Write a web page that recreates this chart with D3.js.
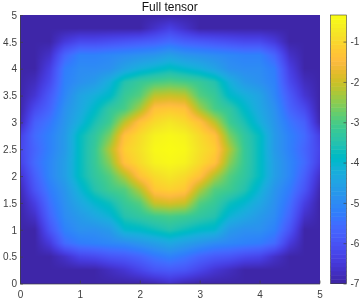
<!DOCTYPE html>
<html lang="en">
<head>
<meta charset="UTF-8">
<title>Full tensor</title>
<style>
    html, body { margin: 0; padding: 0; background: #fff; }
    #wrap { position: relative; width: 360px; height: 300px; overflow: hidden; }
    canvas, svg { position: absolute; left: 0; top: 0; }
    text { font-family: "Liberation Sans", Arial, sans-serif; }
</style>
</head>
<body>
<div id="wrap">
    <canvas id="heat" width="360" height="300"></canvas>
    <svg id="chart" width="360" height="300"></svg>
</div>
<script src="https://d3js.org/d3.v7.min.js"></script>
<script>
    const titleText = 'Full tensor';
    const xTicks = [0, 1, 2, 3, 4, 5];
    const yTicks = [0, 0.5, 1, 1.5, 2, 2.5, 3, 3.5, 4, 4.5, 5];
    const barTicks = [-7, -6, -5, -4, -3, -2, -1];
    const valueRange = [-7, -0.34];

    // grid nodes, 0 to 5 every 0.25
    const gridX = d3.range(0, 5.01, 0.25);
    const gridY = d3.range(0, 5.01, 0.25);

    // values, first row is y = 0
    const gridValues = [
        [-7,-7,-7,-7,-7,-7,-7,-7,-7,-6.9,-6.7,-6.9,-7,-7,-7,-7,-7,-7,-7,-7,-7],
        [-7,-7,-7,-7,-7,-7,-6.8,-6.6,-6.3,-6,-5.9,-6,-6.3,-6.6,-6.8,-7,-7,-7,-7,-7,-7],
        [-7,-7,-7,-6.7,-6.3,-6.2,-6,-5.9,-5.7,-5.4,-5.2,-5.4,-5.7,-5.9,-6,-6.2,-6.3,-6.7,-7,-7,-7],
        [-7,-7,-6.5,-5.6,-5.3,-5.2,-5.1,-5,-4.8,-4.6,-4.4,-4.6,-4.8,-5,-5.1,-5.2,-5.3,-5.6,-6.5,-7,-7],
        [-7,-7,-6,-5.2,-4.9,-4.9,-4.7,-4,-3.9,-3.7,-3.5,-3.7,-3.9,-4,-4.7,-4.9,-4.9,-5.2,-6,-7,-7],
        [-7,-6.7,-5.7,-5,-4.7,-4.4,-4.1,-3.5,-3.3,-3.1,-3,-3.1,-3.3,-3.5,-4.1,-4.4,-4.7,-5,-5.7,-6.7,-7],
        [-7,-6.4,-5.5,-4.9,-4.4,-4,-3.7,-3.2,-2.9,-2,-1.85,-2,-2.9,-3.2,-3.7,-4,-4.4,-4.9,-5.5,-6.4,-7],
        [-6.9,-6,-5.3,-4.8,-4.1,-3.5,-3.1,-2.9,-2.2,-1.2,-1.05,-1.2,-2.2,-2.9,-3.1,-3.5,-4.1,-4.8,-5.3,-6,-6.9],
        [-6.7,-5.8,-5.1,-4.6,-3.8,-3.3,-2.9,-2.2,-1.3,-0.9,-0.7,-0.9,-1.3,-2.2,-2.9,-3.3,-3.8,-4.6,-5.1,-5.8,-6.7],
        [-6.4,-5.6,-5.1,-4.6,-3.8,-3.2,-2.5,-1.3,-0.9,-0.5,-0.4,-0.5,-0.9,-1.3,-2.5,-3.2,-3.8,-4.6,-5.1,-5.6,-6.4],
        [-6.3,-5.7,-5.2,-4.7,-3.8,-3.2,-2.2,-1.1,-0.8,-0.4,-0.34,-0.4,-0.8,-1.1,-2.2,-3.2,-3.8,-4.7,-5.2,-5.7,-6.3],
        [-6.4,-5.6,-5.2,-4.7,-3.8,-3.3,-2.6,-1.3,-0.9,-0.5,-0.4,-0.5,-0.9,-1.3,-2.6,-3.3,-3.8,-4.7,-5.2,-5.6,-6.4],
        [-6.9,-5.8,-5.4,-4.8,-4.2,-3.6,-3.1,-2.1,-1.3,-0.9,-0.7,-0.9,-1.3,-2.1,-3.1,-3.6,-4.2,-4.8,-5.4,-5.8,-6.9],
        [-7,-6.2,-5.7,-4.9,-4.4,-3.9,-3.3,-3,-2.3,-1.3,-1.2,-1.3,-2.3,-3,-3.3,-3.9,-4.4,-4.9,-5.7,-6.2,-7],
        [-7,-6.6,-5.9,-5.1,-4.5,-4.2,-3.9,-3.2,-2.9,-2.1,-2,-2.1,-2.9,-3.2,-3.9,-4.2,-4.5,-5.1,-5.9,-6.6,-7],
        [-7,-6.8,-6.2,-5.2,-4.9,-4.7,-4.2,-3.5,-3.2,-3,-2.9,-3,-3.2,-3.5,-4.2,-4.7,-4.9,-5.2,-6.2,-6.8,-7],
        [-7,-7,-6.4,-5.3,-5,-5,-4.9,-4.5,-4.2,-4,-3.8,-4,-4.2,-4.5,-4.9,-5,-5,-5.3,-6.4,-7,-7],
        [-7,-7,-6.7,-5.7,-5.2,-5.2,-5.1,-5,-4.9,-4.8,-4.6,-4.8,-4.9,-5,-5.1,-5.2,-5.2,-5.7,-6.7,-7,-7],
        [-7,-7,-7,-6.5,-6.2,-6.2,-6.1,-6,-5.9,-5.8,-5.6,-5.8,-5.9,-6,-6.1,-6.2,-6.2,-6.5,-7,-7,-7],
        [-7,-7,-7,-7,-7,-7,-7,-7,-7,-6.7,-6.4,-6.7,-7,-7,-7,-7,-7,-7,-7,-7,-7],
        [-7,-7,-7,-7,-7,-7,-7,-7,-7,-7,-7,-7,-7,-7,-7,-7,-7,-7,-7,-7,-7]
    ];

    // parula
    const palette = [
        [0.2422,0.1504,0.6603],[0.2504,0.1650,0.7076],[0.2578,0.1818,0.7511],[0.2647,0.1978,0.7952],
        [0.2706,0.2147,0.8364],[0.2751,0.2342,0.8710],[0.2783,0.2559,0.8991],[0.2803,0.2782,0.9221],
        [0.2813,0.3006,0.9414],[0.2810,0.3228,0.9579],[0.2795,0.3447,0.9717],[0.2760,0.3667,0.9829],
        [0.2699,0.3892,0.9906],[0.2602,0.4123,0.9952],[0.2440,0.4358,0.9988],[0.2206,0.4603,0.9973],
        [0.1963,0.4847,0.9892],[0.1834,0.5074,0.9798],[0.1786,0.5289,0.9682],[0.1764,0.5499,0.9520],
        [0.1687,0.5703,0.9359],[0.1540,0.5902,0.9218],[0.1460,0.6091,0.9079],[0.1380,0.6276,0.8973],
        [0.1248,0.6459,0.8883],[0.1113,0.6635,0.8763],[0.0952,0.6798,0.8598],[0.0689,0.6948,0.8394],
        [0.0297,0.7082,0.8163],[0.0036,0.7203,0.7917],[0.0067,0.7312,0.7660],[0.0433,0.7411,0.7394],
        [0.0964,0.7500,0.7120],[0.1408,0.7584,0.6842],[0.1717,0.7670,0.6554],[0.1938,0.7758,0.6251],
        [0.2161,0.7843,0.5923],[0.2470,0.7918,0.5567],[0.2906,0.7973,0.5188],[0.3406,0.8008,0.4789],
        [0.3909,0.8029,0.4354],[0.4456,0.8024,0.3909],[0.5044,0.7993,0.3480],[0.5616,0.7942,0.3045],
        [0.6174,0.7876,0.2612],[0.6720,0.7793,0.2227],[0.7242,0.7698,0.1910],[0.7738,0.7598,0.1646],
        [0.8203,0.7498,0.1535],[0.8634,0.7406,0.1596],[0.9035,0.7330,0.1774],[0.9393,0.7288,0.2100],
        [0.9728,0.7298,0.2394],[0.9956,0.7434,0.2371],[0.9970,0.7659,0.2199],[0.9952,0.7861,0.2030],
        [0.9892,0.8135,0.1885],[0.9786,0.8386,0.1766],[0.9676,0.8639,0.1643],[0.9610,0.8890,0.1537],
        [0.9597,0.9135,0.1423],[0.9628,0.9373,0.1265],[0.9691,0.9606,0.1064],[0.9769,0.9839,0.0805]
    ].map(c => d3.rgb(c[0] * 255, c[1] * 255, c[2] * 255));

    const plot = { left: 20, right: 319.5, top: 15, bottom: 283.5 };
    const bar = { left: 330.5, right: 346.5 };
    const axisColor = '#404040';

    const x = d3.scaleLinear().domain([0, 5]).range([plot.left, plot.right]);
    const y = d3.scaleLinear().domain([0, 5]).range([plot.bottom, plot.top]);
    const barY = d3.scaleLinear().domain(valueRange).range([plot.bottom, plot.top]);
    const color = d3.scaleSequential(d3.piecewise(d3.interpolateRgb, palette))
        .domain(valueRange).clamp(true);

    // shading interp: bilinear between grid nodes, then through the colormap
    const colIndex = d3.scaleLinear().domain(d3.extent(gridX)).range([0, gridX.length - 1]).clamp(true);
    const rowIndex = d3.scaleLinear().domain(d3.extent(gridY)).range([0, gridY.length - 1]).clamp(true);

    function valueAt(dx, dy) {
        const c = colIndex(dx), r = rowIndex(dy);
        const c0 = Math.min(Math.floor(c), gridX.length - 2), r0 = Math.min(Math.floor(r), gridY.length - 2);
        const tc = c - c0, tr = r - r0;
        const low = gridValues[r0][c0] * (1 - tc) + gridValues[r0][c0 + 1] * tc;
        const high = gridValues[r0 + 1][c0] * (1 - tc) + gridValues[r0 + 1][c0 + 1] * tc;
        return low * (1 - tr) + high * tr;
    }

    const ctx = document.getElementById('heat').getContext('2d');
    for (let px = Math.floor(plot.left); px < plot.right; px++) {
        for (let py = Math.floor(plot.top); py < plot.bottom; py++) {
            ctx.fillStyle = color(valueAt(x.invert(px + 0.5), y.invert(py + 0.5)));
            ctx.fillRect(px, py, 1, 1);
        }
    }

    const svg = d3.select('#chart');

    // colorbar
    const barBand = d3.scaleBand().domain(d3.range(palette.length)).range([plot.bottom, plot.top]);
    svg.append('g').selectAll('rect')
        .data(palette)
        .enter().append('rect')
        .attr('x', bar.left)
        .attr('y', (d, i) => barBand(i))
        .attr('width', bar.right - bar.left)
        .attr('height', barBand.bandwidth() + 0.5)
        .attr('fill', d => d);

    svg.append('rect')
        .attr('x', bar.left).attr('y', plot.top)
        .attr('width', bar.right - bar.left).attr('height', plot.bottom - plot.top)
        .attr('fill', 'none').attr('stroke', axisColor).attr('stroke-width', 0.6);

    function styleAxis(g) {
        g.selectAll('.domain').attr('stroke', axisColor).attr('stroke-width', 0.7);
        g.selectAll('.tick line').attr('stroke', axisColor).attr('stroke-width', 0.7);
        g.selectAll('.tick text')
            .attr('fill', axisColor)
            .style('font-family', '"Liberation Sans", Arial, sans-serif')
            .style('font-size', '10px');
    }

    const xAxis = d3.axisBottom(x).tickValues(xTicks).tickFormat(d3.format('d'))
        .tickSizeInner(-3).tickSizeOuter(0).tickPadding(7);
    svg.append('g')
        .attr('transform', `translate(0,${plot.bottom})`)
        .call(xAxis).call(styleAxis);

    const yAxis = d3.axisLeft(y).tickValues(yTicks).tickFormat(d => String(d))
        .tickSizeInner(-3).tickSizeOuter(0).tickPadding(3);
    svg.append('g')
        .attr('transform', `translate(${plot.left},0)`)
        .call(yAxis).call(styleAxis);

    const barAxis = d3.axisRight(barY).tickValues(barTicks).tickFormat(d => String(d))
        .tickSizeInner(-3).tickSizeOuter(0).tickPadding(4);
    const barG = svg.append('g')
        .attr('transform', `translate(${bar.right},0)`)
        .call(barAxis).call(styleAxis);
    barG.select('.domain').remove();

    svg.append('text')
        .attr('x', (plot.left + plot.right) / 2)
        .attr('y', 11)
        .attr('text-anchor', 'middle')
        .attr('fill', '#111')
        .style('font-size', '12px')
        .text(titleText);
</script>
</body>
</html>
